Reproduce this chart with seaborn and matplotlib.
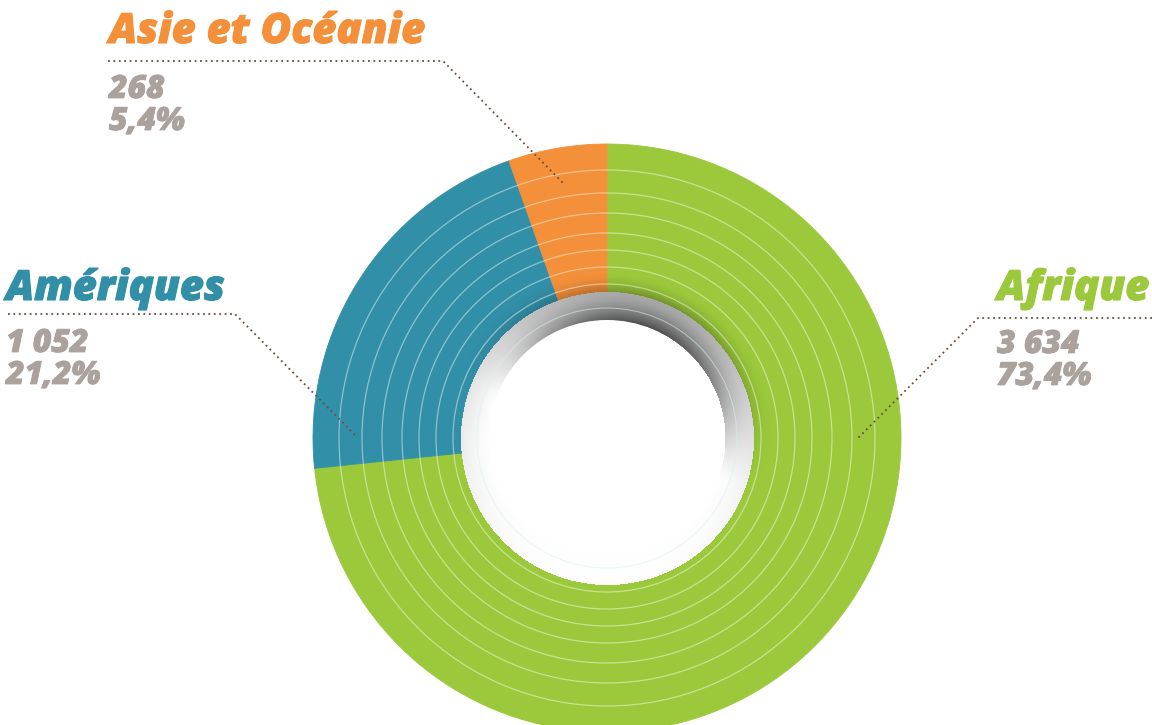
import numpy as np
import matplotlib
matplotlib.use("Agg")
import matplotlib.pyplot as plt
import matplotlib.patheffects as pe
import seaborn as sns
from matplotlib.patches import Circle

# ---- data ----
regions = ["Afrique", "Amériques", "Asie et Océanie"]
counts = [3634, 1052, 268]
count_labels = ["3 634", "1 052", "268"]
pct_labels = ["73,4%", "21,2%", "5,4%"]
colors = ["#9BC93B", "#328FA8", "#F4903A"]

sns.set_theme(style="white")
plt.rcParams["font.family"] = ["Open Sans", "DejaVu Sans"]

W, H = 1152, 725
fig = plt.figure(figsize=(W / 100, H / 100), dpi=100)
ax = fig.add_axes([0, 0, 1, 1])

cx, cy_px = 607, 438
cy = H - cy_px
R_out, R_in, R_hole = 294, 146, 118

wedges, _ = ax.pie(counts, colors=colors, startangle=90, counterclock=False,
                   radius=R_out, center=(cx, cy),
                   wedgeprops=dict(width=R_out - R_in, linewidth=0.6))
for w, c in zip(wedges, colors):
    w.set_edgecolor(c)

# shading image for the inner ring + inner shadow on wedges
ext = 175
xs = np.arange(cx - ext, cx + ext + 1, 1.0)
ys = np.arange(cy - ext, cy + ext + 1, 1.0)
X, Y = np.meshgrid(xs, ys)
dx, dy = X - cx, Y - cy
r = np.hypot(dx, dy)
th = np.arctan2(dy, dx)
f1 = np.clip(np.cos(th - np.deg2rad(70)), 0, None) ** 1.3
f2 = (1 + np.sin(th)) / 2
img = np.zeros(X.shape + (4,))
ring = (r >= R_hole) & (r < R_in + 0.5)
t = np.clip((R_in - r) / (R_in - R_hole), 0, 1)
g = 1 - (f1 * (0.2 + 0.5 * t ** 1.4) + 0.15 * f2 * (1 - t))
g = np.clip(g, 0, 1)
for k in range(3):
    img[..., k] = np.where(ring, g, 0)
img[..., 3] = np.where(ring, 1.0, 0)
band = (r >= R_in + 0.5) & (r < R_in + 22)
s = np.clip(1 - (r - R_in) / 22, 0, 1)
img[..., 3] = np.where(band, 0.28 * f1 * s ** 2, img[..., 3])
ax.imshow(img, extent=(xs[0] - 0.5, xs[-1] + 0.5, ys[0] - 0.5, ys[-1] + 0.5),
          origin="lower", interpolation="bilinear", zorder=3)

# concentric thin lines
for rr in [154, 171, 188, 205, 225, 245, 268]:
    ax.add_patch(Circle((cx, cy), rr, fill=False, edgecolor="white",
                        linewidth=0.9, alpha=0.45, zorder=4))
ax.add_patch(Circle((cx, cy), 130, fill=False, edgecolor="#d8f0f0",
                    linewidth=0.7, alpha=0.6, zorder=4))
ax.add_patch(Circle((cx, cy), R_hole, facecolor="white", edgecolor="none", zorder=5))

# labels
label_pos = {
    "Afrique": dict(x=997, title_y=300, n_y=353, p_y=385,
                    line=[(1152, 318), (978, 318), (858, 438)]),
    "Amériques": dict(x=6, title_y=300, n_y=352, p_y=384,
                      line=[(8, 314), (235, 314), (355, 435)]),
    "Asie et Océanie": dict(x=109, title_y=43, n_y=98, p_y=130,
                            line=[(108, 61), (443, 61), (563, 183)]),
}
gray = "#ABA29D"
for name, col, nl, pl in zip(regions, colors, count_labels, pct_labels):
    p = label_pos[name]
    ax.text(p["x"], H - p["title_y"], name, color=col, fontsize=30,
            fontweight=800, fontstyle="italic", va="baseline", ha="left", zorder=6,
            path_effects=[pe.withStroke(linewidth=0.8, foreground=col)])
    for txt, yy in ((nl, p["n_y"]), (pl, p["p_y"])):
        ax.text(p["x"], H - yy, txt, color=gray, fontsize=23,
                fontweight=800, fontstyle="italic", va="baseline", ha="left", zorder=6,
                path_effects=[pe.withStroke(linewidth=0.6, foreground=gray)])
    lx = [q[0] for q in p["line"]]
    ly = [H - q[1] for q in p["line"]]
    ax.plot(lx, ly, color="#6B4A3F", linewidth=1.3, linestyle=(0, (1, 2)), zorder=7)

ax.set_xlim(0, W)
ax.set_ylim(0, H)
ax.set_aspect("auto")
ax.axis("off")
fig.savefig("out.png", dpi=100, facecolor="white")
